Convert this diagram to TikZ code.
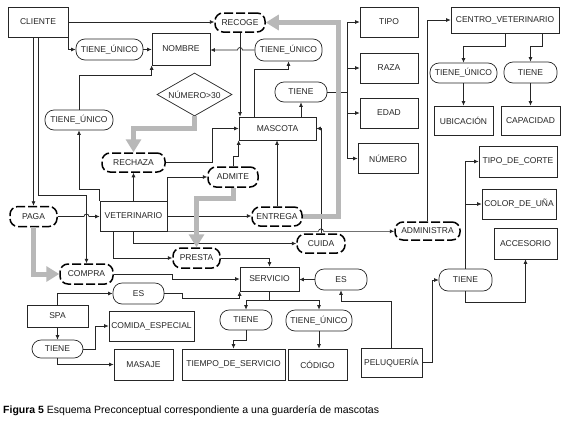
\documentclass[tikz,border=0pt]{standalone}
\usepackage{fontspec}
\setmainfont{Liberation Sans}
\usetikzlibrary{arrows.meta,shapes.geometric}

\begin{document}
\begin{tikzpicture}[x=1pt, y=-1pt,
    font=\fontsize{8.5}{10}\selectfont,
    every node/.style={inner sep=0pt, text=black!85},
    ent/.style={draw=black!85, line width=0.7pt, minimum width=#1, minimum height=30pt},
    rel/.style={draw=black!85, line width=0.7pt, rounded corners=9pt, minimum width=#1, minimum height=21pt},
    dyn/.style={draw=black, line width=1.5pt, dash pattern=on 9pt off 3pt, rounded corners=8pt,
                minimum width=#1, minimum height=19pt},
    con/.style={draw=black!85, line width=0.7pt, -{Latex[length=4.5pt,width=4pt]}},
    flow/.style={draw=black!28, line width=5pt, -{Triangle[length=13pt,width=15pt]}}]
  \useasboundingbox[fill=white] (0,0) rectangle (577,426);

  % concepts
  \node[ent=60] (cliente) at (38,22) {CLIENTE};
  \node[ent=58, minimum height=32pt] (nombre) at (181,49) {NOMBRE};
  \node[ent=77, minimum height=23pt] (mascota) at (277.5,128.5) {MASCOTA};
  \node[ent=58] (tipo) at (389,22) {TIPO};
  \node[ent=58] (raza) at (389,68) {RAZA};
  \node[ent=58] (edad) at (389,113) {EDAD};
  \node[ent=60] (numero) at (388,158.5) {NÚMERO};
  \node[ent=108, minimum height=26pt] (centro) at (505,20) {CENTRO\_VETERINARIO};
  \node[ent=59, minimum height=29pt] (ubicacion) at (463.5,120.5) {UBICACIÓN};
  \node[ent=59, minimum height=29pt] (capacidad) at (530.5,120.5) {CAPACIDAD};
  \node[ent=67] (veterinario) at (133.5,216) {VETERINARIO};
  \node[ent=78, minimum height=31pt] (corte) at (518,161.5) {TIPO\_DE\_CORTE};
  \node[ent=74] (color) at (519,204) {COLOR\_DE\_UÑA};
  \node[ent=63, minimum height=31pt] (accesorio) at (525.5,243.5) {ACCESORIO};
  \node[ent=59, minimum height=24pt] (servicio) at (269.5,279) {SERVICIO};
  \node[ent=61, minimum height=22pt] (spa) at (57.5,316) {SPA};
  \node[ent=85] (comida) at (151.5,326) {COMIDA\_ESPECIAL};
  \node[ent=59, minimum height=31pt] (masaje) at (143.5,364.5) {MASAJE};
  \node[ent=103, minimum height=31pt] (tiempo) at (233.5,364.5) {TIEMPO\_DE\_SERVICIO};
  \node[ent=59, minimum height=31pt] (codigo) at (317.5,364.5) {CÓDIGO};
  \node[ent=61, minimum height=29pt] (peluqueria) at (391.5,362.5) {PELUQUERÍA};

  % structural relations
  \node[rel=67] (tu1) at (109.5,49.5) {TIENE\_ÚNICO};
  \node[rel=68, minimum height=20pt] (tu2) at (79,120) {TIENE\_ÚNICO};
  \node[rel=67, minimum height=22pt] (tu3) at (288.5,50) {TIENE\_ÚNICO};
  \node[rel=52, minimum height=20pt] (tiene1) at (301,92) {TIENE};
  \node[rel=67, minimum height=20pt] (tu4) at (463.5,73) {TIENE\_ÚNICO};
  \node[rel=53] (tiene2) at (530.5,72.5) {TIENE};
  \node[rel=51] (es1) at (138.5,293.5) {ES};
  \node[rel=51, minimum height=18pt] (tiene3) at (57.5,349) {TIENE};
  \node[rel=52, minimum height=20pt] (tiene4) at (246,320) {TIENE};
  \node[rel=66] (tu5) at (319,320.5) {TIENE\_ÚNICO};
  \node[rel=52] (es2) at (341,279.5) {ES};
  \node[rel=53, minimum height=22pt] (tiene5) at (465.5,280) {TIENE};

  % dynamic relations
  \node[dyn=50] (recoge) at (240,22.5) {RECOGE};
  \node[dyn=63] (rechaza) at (133.5,162.5) {RECHAZA};
  \node[dyn=50, minimum height=20pt] (admite) at (233,177) {ADMITE};
  \node[dyn=50] (entrega) at (277,216.5) {ENTREGA};
  \node[dyn=47, minimum height=20pt] (presta) at (196.5,258) {PRESTA};
  \node[dyn=48] (cuida) at (321,243.5) {CUIDA};
  \node[dyn=47, minimum height=20pt] (paga) at (33.5,216.5) {PAGA};
  \node[dyn=53, minimum height=20pt] (compra) at (86.5,274) {COMPRA};
  \node[dyn=65, minimum height=18pt] (administra) at (427.5,231) {ADMINISTRA};

  % condition
  \node[draw=black!85, line width=0.7pt, diamond, aspect=1.75, minimum width=75pt, minimum height=43pt]
    (num30) at (194.5,94.5) {NÚMERO>30};

  % cliente, nombre
  \draw[con] (cliente.east) -- (cliente.east -| recoge.west);
  \draw[con] (cliente.south east) |- (tu1.west);
  \draw[con] (tu1.east) -- (tu1.east -| nombre.west);
  \draw[con] (tu2.north) -- ++(0,-34) -| (nombre.south west);
  \draw[con] (paga.north |- cliente.south) -- (paga.north);
  \draw[con] (cliente.south) -- ++(0,158) -| (compra.north);

  % mascota
  \draw[con] (recoge.south) -- (recoge.south |- mascota.north);
  \draw[con] ([xshift=-23.5pt]mascota.north) -- ++(0,-47) -| (tu3.south);
  \draw[con] (tu3.west) -- ([xshift=2.5pt]recoge.south |- tu3.west)
    arc[start angle=0, end angle=180, radius=2.5pt] -- (tu3.west -| nombre.east);
  \draw[con] (tiene1.south |- mascota.north) -- (tiene1.south);
  \coordinate (tb) at ([xshift=-12pt]tipo.west);
  \draw[con, -] (tiene1.east) -- (tiene1.east -| tb);
  \draw[con, -] (tb) -- (tb |- numero.west);
  \foreach \n in {tipo,raza,edad,numero}
    \draw[con] (tb |- \n.west) -- (\n.west);

  % veterinario
  \draw[con] (veterinario.north west) -- ++(0,-11) -| (tu2.south);
  \draw[con] (veterinario.north) -- (rechaza.south);
  \draw[con] (rechaza.east) -- ++(47,0) |- (mascota.west);
  \draw[con] (veterinario.north east) |- (admite.west);
  \draw[con] (admite.north) -- ++(0,-10) -| (mascota.south west);
  \draw[con] (entrega.north) -- (entrega.north |- mascota.south);
  \draw[con] (cuida.north) |- (mascota.east);
  \draw[con] (veterinario.east) -- (veterinario.east -| entrega.west);
  \draw[con] (veterinario.south east) -- ([xshift=-2.5pt]cuida.north |- veterinario.south east)
    arc[start angle=180, end angle=0, radius=2.5pt] -- (veterinario.south east -| administra.west);
  \draw[con] (veterinario.south) |- (cuida.west);
  \draw[con] ([xshift=-20.5pt]veterinario.south) |- (presta.west);
  \draw[con] (paga.east) -- ([xshift=-2.5pt]compra.north |- paga.east)
    arc[start angle=180, end angle=0, radius=2.5pt] -- (paga.east -| veterinario.west);

  % servicio
  \draw[con] (presta.east) -| (servicio.north);
  \draw[con] (compra.east) -- ++(59,0) |- (servicio.west);
  \draw[con] (spa.north) |- (es1.west);
  \draw[con] (es1.east) -- ++(18,0) -- ++(0,4.5) -| (servicio.south west);
  \draw[con] (spa.south) -- (tiene3.north);
  \draw[con] (tiene3.east) -- ++(12,0) |- (comida.west);
  \draw[con] (tiene3.south) |- (masaje.west);
  \coordinate (sb) at ([yshift=-9pt]servicio.south);
  \draw[con, -] (servicio.south) -- (sb);
  \draw[con] (sb) -| (tiene4.north);
  \draw[con] (sb) -| (tu5.north);
  \draw[con] (tiene4.south) -- ++(0,10) -| (tiempo.north);
  \draw[con] (tu5.south) -- (tu5.south |- codigo.north);
  \draw[con] (es2.west) -- (es2.west -| servicio.east);
  \draw[con] (peluqueria.north) -- ++(0,-46) -| (es2.south);
  \draw[con] (peluqueria.east) -- ++(10,0) |- (tiene5.west);
  \draw[con] (tiene5.south) -- ++(0,11) -| (accesorio.south);
  \draw[con] (tiene5.north) |- (corte.west);
  \draw[con] (tiene5.north) |- (color.west);

  % centro veterinario
  \draw[con] (administra.north) |- (centro.west);
  \draw[con] (centro.south) -- ++(0,13) -| (tu4.north);
  \draw[con] ([xshift=37pt]centro.south) -- ++(0,13) -| (tiene2.north);
  \draw[con] (tu4.south) -- (ubicacion.north);
  \draw[con] (tiene2.south) -- (capacidad.north);

  % implications
  \draw[flow] (num30.south) -- ++(0,12) -| (rechaza.north);
  \draw[flow] (admite.south) -- ++(0,11) -| (presta.north);
  \draw[flow] (entrega.east) -- ++(36,0) |- (recoge.east);
  \draw[flow] (paga.south) |- (compra.west);

  \node[anchor=west, text=black, font=\fontsize{10.5}{12}\selectfont] (caption) at (3,411)
    {\textbf{Figura 5} Esquema Preconceptual correspondiente a una guardería de mascotas};
\end{tikzpicture}
\end{document}
